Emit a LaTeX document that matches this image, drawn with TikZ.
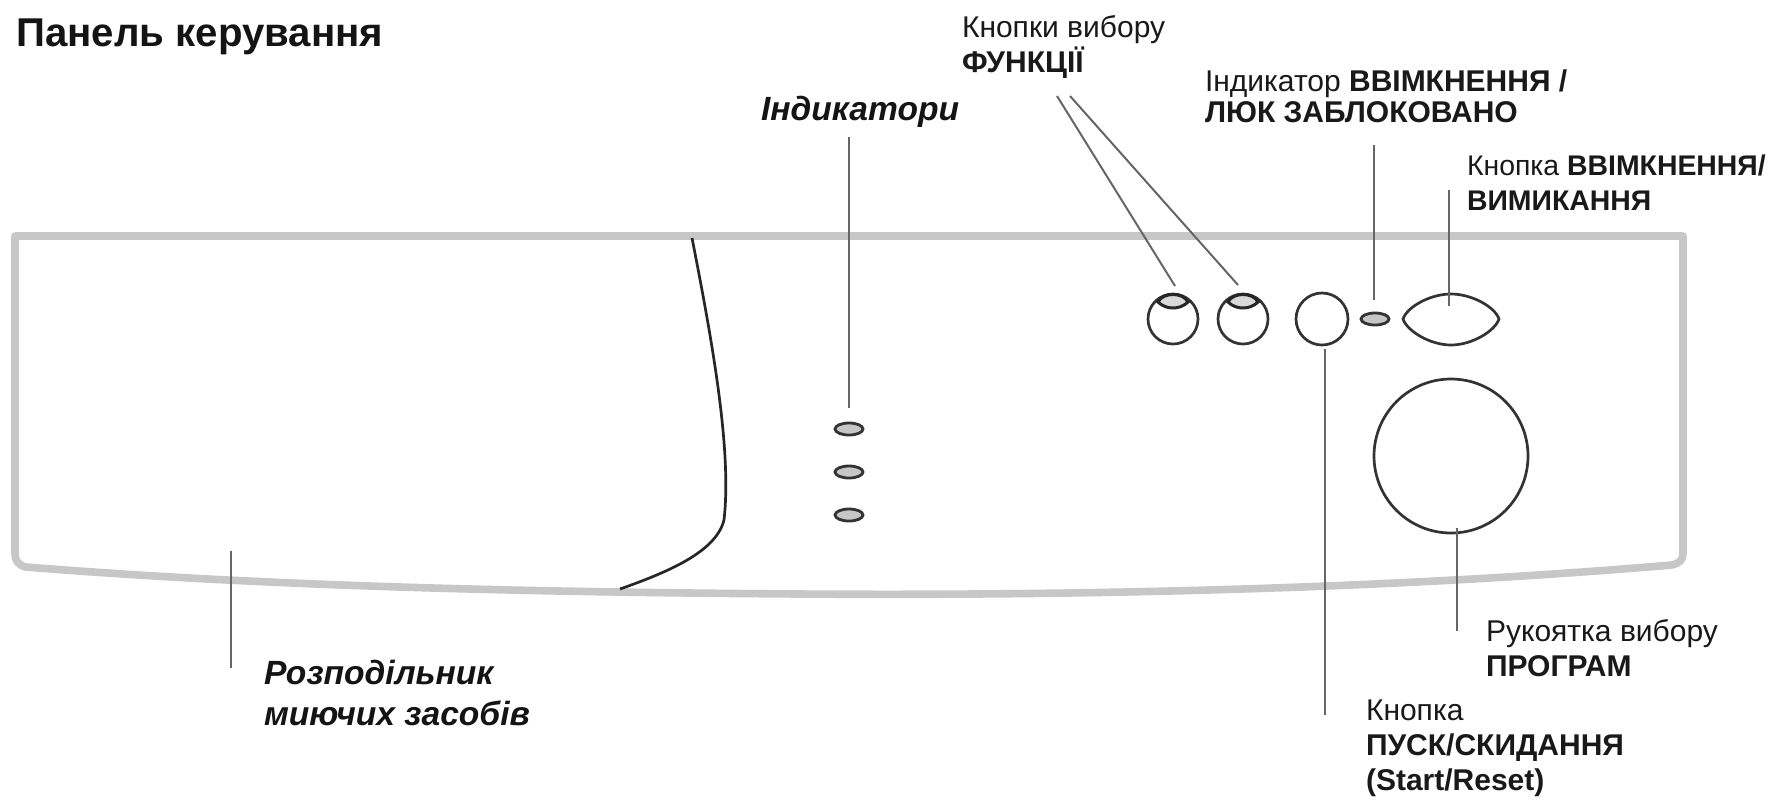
\documentclass[tikz,border=0pt]{standalone}
\usepackage{fontspec}
\usetikzlibrary{shapes.geometric}
\setmainfont{Liberation Sans}
\tikzset{
  px/.style={x=0.5pt,y=-0.5pt},
  lab/.style={anchor=north west,inner sep=0pt,outer sep=0pt,align=left,font=\fontsize{15}{17.5}\selectfont,text=black!90},
  labtight/.style={lab,font=\fontsize{15}{15.6}\selectfont},
  labsmall/.style={lab,font=\fontsize{14.2}{17.5}\selectfont},
  ilab/.style={anchor=north west,inner sep=0pt,outer sep=0pt,align=left,font=\fontsize{16.8}{20.5}\selectfont\bfseries\itshape,text=black!92},
  leader/.style={draw=black!60,line width=1pt},
  knob/.style={draw=black!80,line width=1.35pt,fill=white},
  led/.style={draw=black!80,line width=1.4pt,fill=black!22},
  shell/.style={draw=black!22,line width=3.8pt,line join=round}
}
\begin{document}
\begin{tikzpicture}[px]
\useasboundingbox (0,0) rectangle (1777,799);
\fill[white] (0,0) rectangle (1777,799);
% panel
\draw[shell] (15,236) -- (1683,236) -- (1683,553) .. controls (1683,560) and (1680,563) .. (1672,565)
  .. controls (1400,588) and (1100,596) .. (800,594)
  .. controls (500,592) and (250,585) .. (26,567) .. controls (18,565) and (15,561) .. (15,553) -- cycle;
\draw[draw=black!85,line width=1.35pt] (692,238) .. controls (712,340) and (732,450) .. (724,520)
  .. controls (716,552) and (668,572) .. (620,589);
% controls
\node[knob,circle,minimum size=25pt,inner sep=0pt] (f1) at (1173,319) {};
\node[knob,circle,minimum size=25pt,inner sep=0pt] (f2) at (1243,319) {};
\draw[draw=black!85,line width=1.5pt,fill=black!15] (1158,302) .. controls (1163,292) and (1183,292) .. (1188,302) .. controls (1180,310) and (1166,310) .. (1158,302) -- cycle;
\draw[draw=black!85,line width=1.5pt,fill=black!15] (1228,302) .. controls (1233,292) and (1253,292) .. (1258,302) .. controls (1250,310) and (1236,310) .. (1228,302) -- cycle;
\node[knob,circle,minimum size=26pt,inner sep=0pt] (startb) at (1322,319) {};
\node[led,ellipse,minimum width=14pt,minimum height=6pt,inner sep=0pt] (lock) at (1375,319) {};
\draw[knob] (1403,319) .. controls (1407,307) and (1430,294) .. (1451,294)
  .. controls (1472,294) and (1495,307) .. (1499,319)
  .. controls (1495,331) and (1472,345) .. (1451,345)
  .. controls (1430,345) and (1407,331) .. (1403,319) -- cycle;
\coordinate (power) at (1449,306);
\node[knob,circle,minimum size=77pt,inner sep=0pt] (dial) at (1451,456) {};
\node[led,ellipse,minimum width=14pt,minimum height=6pt,inner sep=0pt] (i1) at (849,429) {};
\node[led,ellipse,minimum width=14pt,minimum height=6pt,inner sep=0pt] (i2) at (849,472) {};
\node[led,ellipse,minimum width=14pt,minimum height=6pt,inner sep=0pt] (i3) at (849,515) {};
% text
\node[anchor=north west,inner sep=0pt,font=\fontsize{20.1}{22}\selectfont\bfseries,text=black!92] (title) at (16,18) {Панель керування};
\node[ilab] (tind) at (761,96) {Індикатори};
\node[lab] (tfun) at (962,15) {Кнопки вибору\\\textbf{ФУНКЦІЇ}};
\node[labtight] (tlock) at (1205,70) {Індикатор \textbf{ВВІМКНЕННЯ /}\\\textbf{ЛЮК ЗАБЛОКОВАНО}};
\node[labsmall] (tpow) at (1467,155) {Кнопка \textbf{ВВІМКНЕННЯ/}\\\textbf{ВИМИКАННЯ}};
\node[lab] (tprog) at (1486,619) {Рукоятка вибору\\\textbf{ПРОГРАМ}};
\node[lab] (tstart) at (1366,700) {Кнопка\\\textbf{ПУСК/СКИДАННЯ}\\\textbf{(Start/Reset)}};
\node[ilab] (tdisp) at (264,660) {Розподільник\\миючих засобів};
% connectors
\coordinate (c1) at (1057,96); \coordinate (c2) at (1070,96);
\coordinate (e1) at (1175,286); \coordinate (e2) at (1238,285);
\draw[leader] (c1) -- (e1);
\draw[leader] (c2) -- (e2);
\coordinate (a1) at (849,137); \coordinate (b1) at (849,408);
\draw[leader] (a1) -- (b1);
\coordinate (a2) at (1374,145); \coordinate (b2) at (1374,300);
\draw[leader] (a2) -- (b2);
\coordinate (a3) at (1449,190);
\draw[leader] (a3) -- (power);
\coordinate (a4) at (1325,349); \coordinate (b4) at (1325,715);
\draw[leader] (a4) -- (b4);
\coordinate (a5) at (1457,528); \coordinate (b5) at (1457,631);
\draw[leader] (a5) -- (b5);
\coordinate (a6) at (231,551); \coordinate (b6) at (231,668);
\draw[leader] (a6) -- (b6);
\end{tikzpicture}
\end{document}
